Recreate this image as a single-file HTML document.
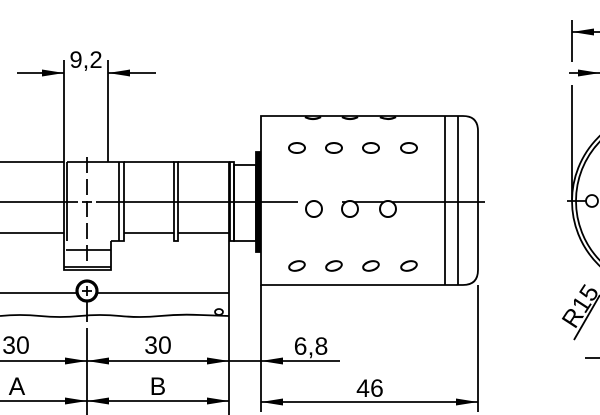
<!DOCTYPE html>
<html><head><meta charset="utf-8"><style>
html,body{margin:0;padding:0;background:#fff;width:600px;height:415px;overflow:hidden}
svg{display:block}
text{font-family:"Liberation Sans",sans-serif;fill:#000}
</style></head><body>
<svg width="600" height="415" viewBox="0 0 600 415" xmlns="http://www.w3.org/2000/svg">
<defs>
<marker id="a" viewBox="0 0 22 7" refX="22" refY="3.5" markerWidth="22" markerHeight="7" markerUnits="userSpaceOnUse" orient="auto"><path d="M0,0 L22,3.5 L0,7 Z" fill="#000"/></marker>
</defs>
<g stroke="#000" stroke-width="1.8" fill="none">
<line x1="64" y1="60" x2="64" y2="162"/>
<line x1="108" y1="60" x2="108" y2="162"/>
<line x1="17" y1="73" x2="64" y2="73" marker-end="url(#a)"/>
<line x1="156" y1="73" x2="108" y2="73" marker-end="url(#a)"/>
<line x1="0" y1="162" x2="64" y2="162"/>
<line x1="0" y1="233" x2="64" y2="233"/>
<line x1="64" y1="162" x2="64" y2="241"/>
<line x1="67" y1="162" x2="67" y2="241"/>
<path d="M67,162 H124 V241 H111"/>
<line x1="119" y1="162" x2="119" y2="241"/>
<line x1="124" y1="162" x2="174" y2="162"/>
<line x1="124" y1="233" x2="174" y2="233"/>
<rect x="174" y="162" width="4" height="79"/>
<line x1="178" y1="162" x2="230" y2="162"/>
<line x1="178" y1="233" x2="230" y2="233"/>
<rect x="230" y="162" width="4" height="79"/>
<rect x="234" y="165" width="22" height="76"/>
<rect x="256" y="152" width="4" height="100" fill="#000"/>
<path d="M64,241 V270 H111 V241"/>
<line x1="66" y1="250" x2="111" y2="250"/>
<line x1="64" y1="267" x2="111" y2="267"/>
<line x1="87" y1="157" x2="87" y2="262" stroke-dasharray="16,6"/>
<line x1="87" y1="302" x2="87" y2="322"/>
<line x1="87" y1="328" x2="87" y2="415"/>
<line x1="0" y1="202" x2="78" y2="202"/>
<line x1="82" y1="202" x2="92" y2="202"/>
<line x1="96" y1="202" x2="298" y2="202"/>
<line x1="342" y1="202" x2="485" y2="202"/>
<circle cx="87" cy="291" r="10" stroke-width="3.2" fill="#fff"/>
<line x1="82" y1="291" x2="92" y2="291"/>
<line x1="87" y1="286" x2="87" y2="296"/>
<line x1="0" y1="293" x2="76" y2="293"/>
<line x1="98" y1="293" x2="229" y2="293"/>
<line x1="229" y1="162" x2="229" y2="415"/>
<path d="M0,316 Q20,314 40,316 T80,316 T120,316 T160,316 T200,315 L229,316" />
<ellipse cx="219" cy="312" rx="4" ry="3"/>
<path d="M261,116 H463 Q478,116 478,131 V270 Q478,285 463,285 H261 Z"/>
<line x1="445" y1="116" x2="445" y2="285"/>
<line x1="458" y1="116" x2="458" y2="285"/>
<line x1="261" y1="285" x2="261" y2="412"/>
<line x1="478" y1="285" x2="478" y2="412"/>
<path d="M305,117 Q313,121 321,117 M342,117 Q350,121 358,117 M380,117 Q388,121 396,117" stroke-width="2.2"/>
<g stroke-width="2">
<ellipse cx="297" cy="148" rx="8" ry="5"/>
<ellipse cx="334" cy="148" rx="8" ry="5"/>
<ellipse cx="371" cy="148" rx="8" ry="5"/>
<ellipse cx="409" cy="148" rx="8" ry="5"/>
<circle cx="314" cy="209" r="8" fill="#fff"/>
<circle cx="350" cy="209" r="8" fill="#fff"/>
<circle cx="388" cy="209" r="8" fill="#fff"/>
<ellipse cx="297" cy="266" rx="8" ry="4.5" transform="rotate(-15 297 266)"/>
<ellipse cx="334" cy="266" rx="8" ry="4.5" transform="rotate(-15 334 266)"/>
<ellipse cx="371" cy="266" rx="8" ry="4.5" transform="rotate(-15 371 266)"/>
<ellipse cx="409" cy="266" rx="8" ry="4.5" transform="rotate(-15 409 266)"/>
</g>
<line x1="0" y1="361" x2="87" y2="361" marker-end="url(#a)"/>
<line x1="158" y1="361" x2="87" y2="361" marker-end="url(#a)"/>
<line x1="158" y1="361" x2="229" y2="361" marker-end="url(#a)"/>
<line x1="229" y1="361" x2="261" y2="361"/>
<line x1="340" y1="361" x2="261" y2="361" marker-end="url(#a)"/>
<line x1="0" y1="401" x2="87" y2="401" marker-end="url(#a)"/>
<line x1="158" y1="401" x2="87" y2="401" marker-end="url(#a)"/>
<line x1="158" y1="401" x2="229" y2="401" marker-end="url(#a)"/>
<line x1="370" y1="402" x2="261" y2="402" marker-end="url(#a)"/>
<line x1="370" y1="402" x2="478" y2="402" marker-end="url(#a)"/>
<line x1="572" y1="20" x2="572" y2="62"/>
<line x1="572" y1="85" x2="572" y2="200"/>
<line x1="600" y1="32" x2="572" y2="32" marker-end="url(#a)"/>
<line x1="569" y1="73" x2="600" y2="73" marker-end="url(#a)"/>
<circle cx="662" cy="201" r="90"/>
<circle cx="662" cy="201" r="86"/>
<line x1="567" y1="201" x2="586" y2="201"/>
<circle cx="592" cy="201" r="6" fill="#fff"/>
<line x1="574" y1="340" x2="600" y2="295"/>
<line x1="585" y1="358" x2="600" y2="358"/>
</g>
<text x="86" y="68" font-size="24" text-anchor="middle">9,2</text>
<text x="16" y="354" font-size="25" text-anchor="middle">30</text>
<text x="158" y="354" font-size="25" text-anchor="middle">30</text>
<text x="17" y="395" font-size="25" text-anchor="middle">A</text>
<text x="158" y="395" font-size="25" text-anchor="middle">B</text>
<text x="311" y="355" font-size="25" text-anchor="middle">6,8</text>
<text x="370" y="397" font-size="25" text-anchor="middle">46</text>
<text x="0" y="0" font-size="25" transform="translate(575,330) rotate(-57)">R15</text>
</svg>
</body></html>
